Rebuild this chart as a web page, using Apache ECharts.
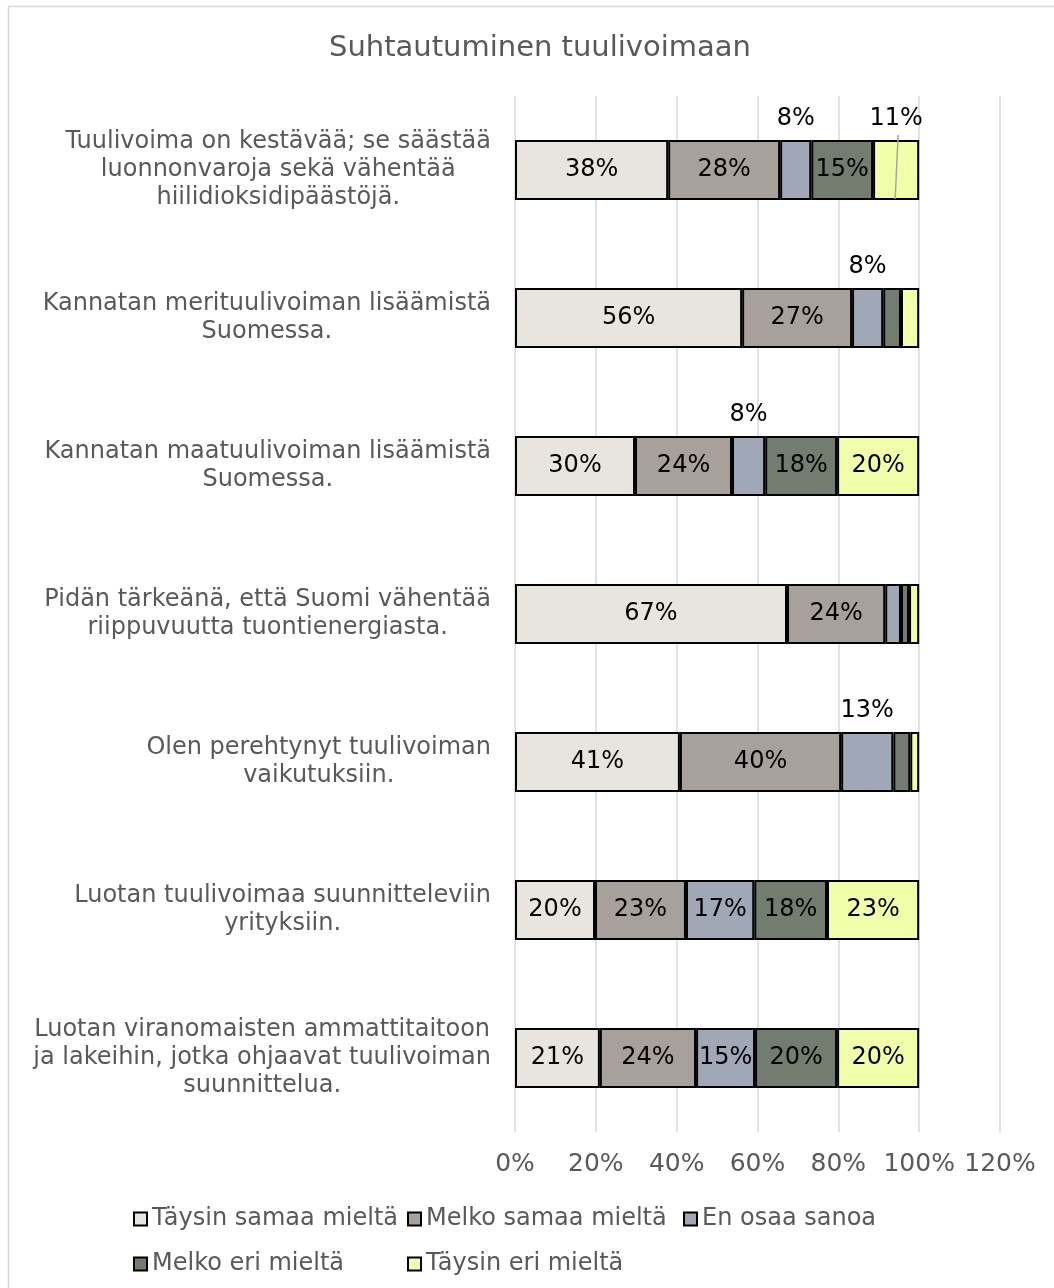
<!DOCTYPE html>
<html>
<head>
<meta charset="utf-8">
<script src="https://cdn.jsdelivr.net/npm/echarts@6/dist/echarts.min.js"></script>
<style>
  html, body { margin: 0; padding: 0; background: #fff; }
  #chart { width: 1054px; height: 1288px; }
</style>
</head>
<body>
<div id="chart"></div>
<script>
const categories = [
    'Tuulivoima on kestävää; se säästää\nluonnonvaroja sekä vähentää\nhiilidioksidipäästöjä.',
    'Kannatan merituulivoiman lisäämistä\nSuomessa.',
    'Kannatan maatuulivoiman lisäämistä\nSuomessa.',
    'Pidän tärkeänä, että Suomi vähentää\nriippuvuutta tuontienergiasta.',
    'Olen perehtynyt tuulivoiman\nvaikutuksiin.',
    'Luotan tuulivoimaa suunnitteleviin\nyrityksiin.',
    'Luotan viranomaisten ammattitaitoon\nja lakeihin, jotka ohjaavat tuulivoiman\nsuunnittelua.'
];

const seriesNames = ['Täysin samaa mieltä', 'Melko samaa mieltä', 'En osaa sanoa', 'Melko eri mieltä', 'Täysin eri mieltä'];

const fullyAgree = [37.9, 56.2, 29.7, 67.3, 40.8, 19.8, 21.0];
const mostlyAgree = [27.7, 27.2, 24.0, 24.3, 39.9, 22.5, 23.8];
const dontKnow = [7.7, 7.7, 8.2, 3.9, 12.9, 16.9, 14.6];
const mostlyDisagree = [15.3, 4.4, 17.8, 2.0, 4.2, 18.0, 20.3];
const fullyDisagree = [11.4, 4.5, 20.3, 2.5, 2.2, 22.8, 20.3];

const xTicks = [0, 20, 40, 60, 80, 100, 120];

const colors = ['#E8E5DF', '#A8A09A', '#A0A7B7', '#727D70', '#F2FFAA'];

// labels that sit above the bar instead of inside: [row, series]
const labelsAbove = [[0, 2], [0, 4], [1, 2], [2, 2], [4, 2]];
// the one label that keeps a leader line through its bar
const leaderLabel = [0, 4];

const font = 'DejaVu Sans';
const grey = '#595959';
const barWidth = 60;

const allValues = [fullyAgree, mostlyAgree, dontKnow, mostlyDisagree, fullyDisagree];

const series = allValues.map((values, s) => ({
    name: seriesNames[s],
    type: 'bar',
    stack: 'total',
    barWidth: barWidth,
    itemStyle: {color: colors[s], borderColor: '#000', borderWidth: 2},
    label: {
        show: true,
        position: 'inside',
        color: '#000',
        fontFamily: font,
        fontSize: 24,
        formatter: p => Math.round(p.value) + '%'
    },
    emphasis: {disabled: true},
    data: values.map((v, i) => {
        const above = labelsAbove.some(a => a[0] === i && a[1] === s);
        if (above) return {value: v, label: {position: 'top', distance: 9}};
        if (v < 9) return {value: v, label: {show: false}};
        return v;
    })
}));

const legendCols = [128, 402, 678];
const legendRows = [1202, 1247];
const legendPlaces = [[0, 0], [0, 1], [0, 2], [1, 0], [1, 1]];

const chart = echarts.init(document.getElementById('chart'));
chart.setOption({
    animation: false,
    title: {
        text: 'Suhtautuminen tuulivoimaan',
        left: 535,
        top: 29,
        textAlign: 'center',
        textStyle: {fontFamily: font, fontSize: 29, fontWeight: 'normal', color: grey}
    },
    grid: {left: 515, right: 54, top: 96, bottom: 156},
    xAxis: {
        type: 'value',
        min: xTicks[0],
        max: xTicks[xTicks.length - 1],
        interval: xTicks[1] - xTicks[0],
        axisLine: {show: false},
        axisTick: {show: false},
        splitLine: {lineStyle: {color: '#d9d9d9', width: 1.5}},
        axisLabel: {formatter: '{value}%', color: grey, fontFamily: font, fontSize: 25, margin: 20}
    },
    yAxis: {
        type: 'category',
        inverse: true,
        data: categories,
        axisLine: {show: false},
        axisTick: {show: false},
        axisLabel: {
            margin: 24,
            color: grey,
            fontFamily: font,
            fontSize: 24,
            lineHeight: 28,
            align: 'right',
            formatter: v => v.split('\n').map(l => '{c|' + l + '}').join('\n'),
            rich: {c: {align: 'center', color: grey, fontFamily: font, fontSize: 24, lineHeight: 28}}
        }
    },
    legend: legendPlaces.map((p, k) => ({
        data: [seriesNames[k]],
        left: legendCols[p[1]],
        top: legendRows[p[0]],
        icon: 'rect',
        itemWidth: 13,
        itemHeight: 13,
        selectedMode: false,
        itemStyle: {borderColor: '#000', borderWidth: 2},
        textStyle: {color: grey, fontFamily: font, fontSize: 24}
    })),
    series: series
});

// frame and the leader line of the "11%" label
const row = leaderLabel[0];
let start = 0;
for (let s = 0; s < leaderLabel[1]; s++) start += allValues[s][row];
const mid = start + allValues[leaderLabel[1]][row] / 2;
const pt = chart.convertToPixel({gridIndex: 0}, [mid, row]);
chart.setOption({
    graphic: [{
        type: 'rect',
        shape: {x: 8.5, y: 6.5, width: 1100, height: 1300},
        style: {fill: 'none', stroke: '#d9d9d9', lineWidth: 1.5},
        silent: true
    }, {
        type: 'line',
        shape: {x1: pt[0] + 2, y1: pt[1] - barWidth / 2 - 5, x2: pt[0] - 1, y2: pt[1] + barWidth / 2 - 1},
        style: {stroke: '#a6a6a6', lineWidth: 1.5},
        silent: true,
        z: 100
    }]
});
window.addEventListener('resize', () => chart.resize());
</script>
</body>
</html>
